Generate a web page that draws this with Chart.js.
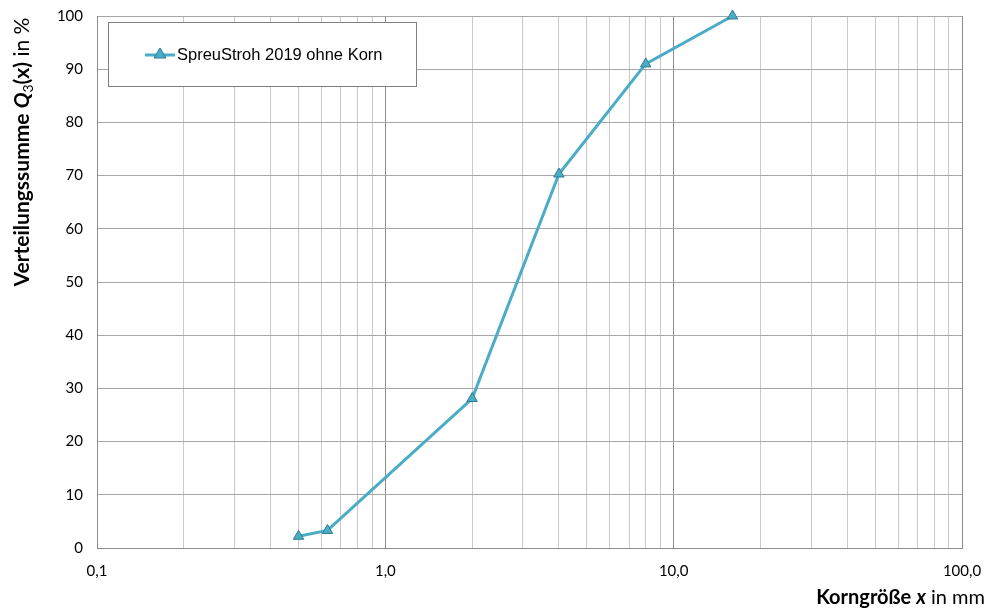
<!DOCTYPE html>
<html>
<head>
<meta charset="utf-8">
<script src="https://cdn.jsdelivr.net/npm/chart.js@4"></script>
<style>
  html, body { margin: 0; padding: 0; background: #ffffff; }
  #wrap { width: 992px; height: 610px; }
</style>
</head>
<body>
<div id="wrap"><canvas id="chart" width="992" height="610"></canvas></div>
<script>
// Daten: Korngröße (mm) und Verteilungssumme Q3 (%)
const seriesLabel = 'SpreuStroh 2019 ohne Korn';
const korngroesse = [0.5, 0.63, 2, 4, 8, 16];
const q3Werte = [2.2, 3.3, 28.1, 70.3, 91.0, 100.0];

// Achsen
const xDekaden = [0.1, 1, 10, 100];
const xTickLabels = ['0,1', '1,0', '10,0', '100,0'];
const yTicks = [0, 10, 20, 30, 40, 50, 60, 70, 80, 90, 100];

const LINIE = '#4bacc6';
const RAND = '#2f7d92';

// alle Gitterlinien 1..9 je Dekade
const xGitter = [];
xDekaden.slice(0, -1).forEach((d) => {
  for (let m = 1; m < 10; m++) xGitter.push(+(d * m).toFixed(4));
});
xGitter.push(xDekaden[xDekaden.length - 1]);

function istDekade(v) {
  return xDekaden.some((d) => Math.abs(d - v) < 1e-9);
}

// Text mit gemischten Schriftstilen zeichnen
function zeichneSegmente(ctx, segs, x, y, align) {
  let total = 0;
  segs.forEach((s) => { ctx.font = s.font; total += ctx.measureText(s.text).width; });
  let cx = align === 'right' ? x - total : (align === 'center' ? x - total / 2 : x);
  segs.forEach((s) => {
    ctx.font = s.font;
    ctx.fillText(s.text, cx, y + (s.dy || 0));
    cx += ctx.measureText(s.text).width;
  });
}

const titelPlugin = {
  id: 'titel',
  afterDraw(chart) {
    const ctx = chart.ctx;
    ctx.save();
    ctx.fillStyle = '#000000';
    ctx.textBaseline = 'middle';

    // X-Achsentitel
    zeichneSegmente(ctx, [
      { text: 'Korngröße ', font: 'bold 20px Lato' },
      { text: 'x', font: 'bold italic 20px Lato' },
      { text: ' in mm', font: '20px Lato' },
    ], 985, 598, 'right');

    // Y-Achsentitel (gedreht)
    ctx.translate(22, 152);
    ctx.rotate(-Math.PI / 2);
    zeichneSegmente(ctx, [
      { text: 'Verteilungssumme ', font: 'bold 21px Lato' },
      { text: 'Q', font: 'bold italic 21px Lato' },
      { text: '3', font: '14px Lato', dy: 6 },
      { text: '(x)', font: 'bold 21px Lato' },
      { text: ' in %', font: '21px Lato' },
    ], 0, 0, 'center');
    ctx.restore();

    // Legende im Diagramm
    ctx.save();
    const lx = 108, ly = 22, lw = 308, lh = 64;
    ctx.fillStyle = '#ffffff';
    ctx.fillRect(lx, ly, lw, lh);
    ctx.strokeStyle = '#808080';
    ctx.lineWidth = 1;
    ctx.strokeRect(lx + 0.5, ly + 0.5, lw, lh);
    const my = 55;
    ctx.strokeStyle = LINIE;
    ctx.lineWidth = 3;
    ctx.beginPath();
    ctx.moveTo(145, my);
    ctx.lineTo(175, my);
    ctx.stroke();
    ctx.fillStyle = LINIE;
    ctx.strokeStyle = RAND;
    ctx.lineWidth = 1;
    ctx.beginPath();
    ctx.moveTo(160, my - 7);
    ctx.lineTo(166, my + 3);
    ctx.lineTo(154, my + 3);
    ctx.closePath();
    ctx.fill();
    ctx.stroke();
    ctx.fillStyle = '#000000';
    ctx.font = '16.5px "Liberation Sans"';
    ctx.textBaseline = 'middle';
    ctx.fillText(chart.data.datasets[0].label, 177, my);
    ctx.restore();
  },
};

new Chart(document.getElementById('chart'), {
  type: 'line',
  data: {
    datasets: [{
      label: seriesLabel,
      data: korngroesse.map((x, i) => ({ x, y: q3Werte[i] })),
      borderColor: LINIE,
      borderWidth: 3,
      backgroundColor: LINIE,
      pointStyle: 'triangle',
      pointRadius: 6,
      pointBackgroundColor: LINIE,
      pointBorderColor: RAND,
      pointBorderWidth: 1,
      tension: 0,
      clip: false,
    }],
  },
  options: {
    responsive: false,
    animation: false,
    layout: { padding: { top: 16, right: 30, bottom: 0, left: 0 } },
    plugins: {
      legend: { display: false },
      tooltip: { enabled: false },
      title: { display: false },
    },
    scales: {
      x: {
        type: 'logarithmic',
        min: xDekaden[0],
        max: xDekaden[xDekaden.length - 1],
        afterBuildTicks(axis) {
          axis.ticks = xGitter.map((v) => ({ value: v, major: istDekade(v) }));
        },
        afterFit(axis) {
          axis.height = 62;
          axis.paddingLeft = 0;
          axis.paddingRight = 0;
        },
        ticks: {
          autoSkip: false,
          maxRotation: 0,
          padding: 14,
          color: '#000000',
          font: { family: 'Lato', size: 15 },
          callback(value) {
            const i = xDekaden.findIndex((d) => Math.abs(d - value) < 1e-9);
            return i >= 0 ? xTickLabels[i] : '';
          },
        },
        grid: {
          drawTicks: false,
          color(c) { return c.tick && istDekade(c.tick.value) ? '#8c8c8c' : '#c8c8c8'; },
          lineWidth: 1,
        },
        border: { color: '#8c8c8c' },
      },
      y: {
        min: yTicks[0],
        max: yTicks[yTicks.length - 1],
        afterBuildTicks(axis) {
          axis.ticks = yTicks.map((v) => ({ value: v }));
        },
        afterFit(axis) {
          axis.width = 97;
          axis.paddingTop = 0;
          axis.paddingBottom = 0;
        },
        ticks: {
          padding: 14,
          color: '#000000',
          font: { family: 'Lato', size: 15 },
        },
        grid: {
          drawTicks: false,
          color: '#a6a6a6',
          lineWidth: 1,
        },
        border: { color: '#8c8c8c' },
      },
    },
  },
  plugins: [titelPlugin],
});
</script>
</body>
</html>
